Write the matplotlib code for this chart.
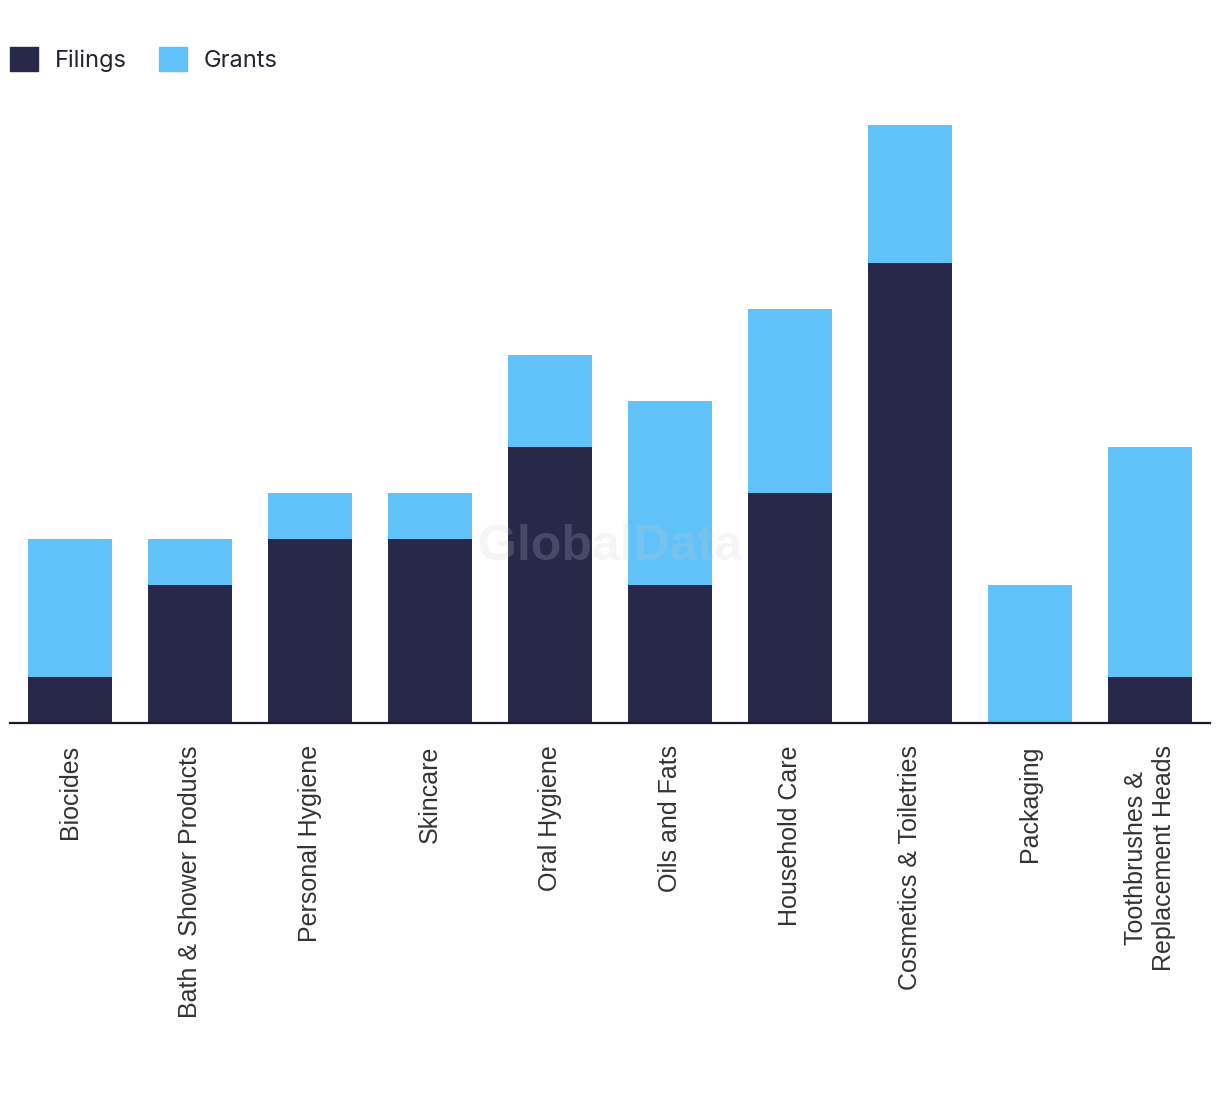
import numpy as np
import matplotlib.pyplot as plt
from matplotlib.patches import Patch

categories = [
    "Biocides", "Bath & Shower Products", "Personal Hygiene", "Skincare",
    "Oral Hygiene", "Oils and Fats", "Household Care", "Cosmetics & Toiletries",
    "Packaging", "Toothbrushes &\nReplacement Heads",
]
filings = [1, 3, 4, 4, 6, 3, 5, 10, 0, 1]
grants  = [3, 1, 1, 1, 2, 4, 4, 3, 3, 5]

DARK  = "#27284a"
LIGHT = "#61c1f9"

W, H = 1220, 1094
fig = plt.figure(figsize=(W / 100, H / 100), dpi=100)
ax = fig.add_axes([10 / W, 1 - 723 / H, 1200 / W, (723 - 100) / H])

x = np.arange(len(categories))
ax.bar(x, filings, 0.7, color=DARK, zorder=2)
ax.bar(x, grants, 0.7, bottom=filings, color=LIGHT, zorder=2)

ax.set_xlim(-0.5, len(categories) - 0.5)
ax.set_ylim(0, (723 - 100) / 46)
ax.set_xticks(x)
ax.set_xticklabels(categories, rotation=90, fontsize=18, color="#333333",
                   family="Liberation Sans", va="top", ha="center",
                   multialignment="center")
ax.tick_params(axis="x", length=0, pad=16)
ax.set_yticks([])
for s in ["top", "right", "left"]:
    ax.spines[s].set_visible(False)
ax.spines["bottom"].set_color("#1a1a2e")
ax.spines["bottom"].set_linewidth(1.6)
ax.spines["bottom"].set_zorder(3)

ax.text(0.5, 0.283, "GlobalData", transform=ax.transAxes, ha="center",
        va="center", fontsize=36, fontweight="bold", color="#d0d0d0",
        alpha=0.2, family="Liberation Sans", zorder=4)

handles = [Patch(color=DARK, label="Filings"), Patch(color=LIGHT, label="Grants")]
fig.legend(handles=handles, loc="upper left", bbox_to_anchor=(0.0, 0.966),
           ncol=2, frameon=False, prop={"family": "Inter", "size": 17},
           handlelength=1.19, handleheight=1.19, handletextpad=0.72,
           columnspacing=1.35, labelcolor="#222233", borderaxespad=0.0,
           borderpad=0.42)

fig.savefig("out.png", dpi=100)
